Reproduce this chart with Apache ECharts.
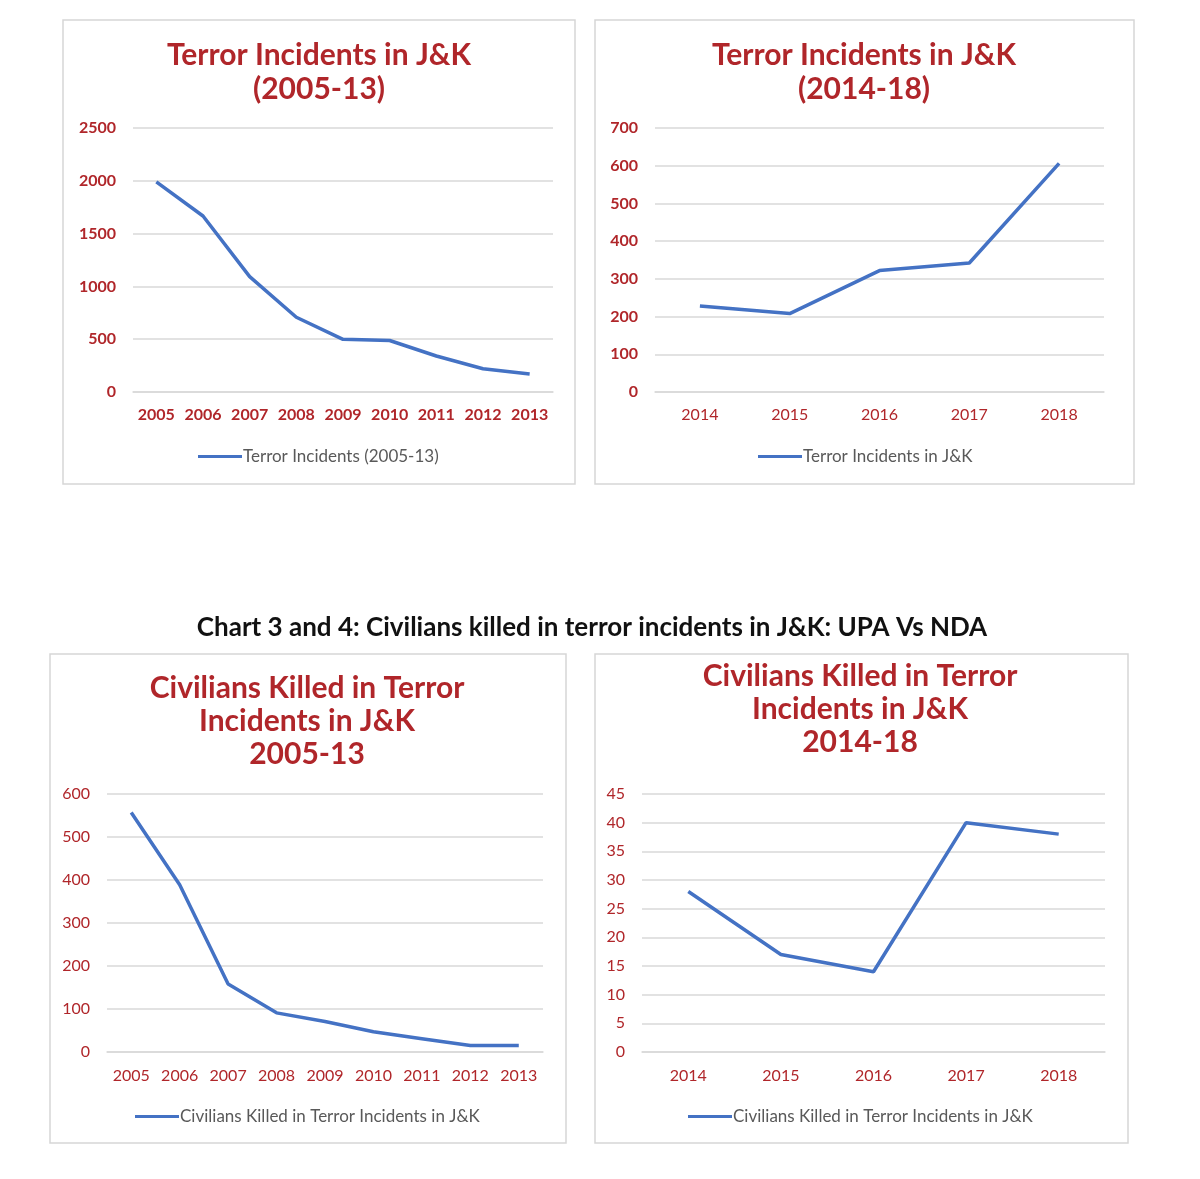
<!DOCTYPE html>
<html><head><meta charset="utf-8">
<script src="https://cdn.jsdelivr.net/npm/echarts@6/dist/echarts.min.js"></script>
<style>html,body{margin:0;padding:0;background:#fff}#c{width:1200px;height:1179px}</style>
</head><body><div id="c"></div>
<script>
const years1 = ['2005','2006','2007','2008','2009','2010','2011','2012','2013'];
const years2 = ['2014','2015','2016','2017','2018'];
const incidents1 = [1990, 1667, 1092, 708, 499, 488, 341, 220, 170];
const incidents2 = [228, 208, 322, 342, 606];
const civilians1 = [557, 389, 158, 91, 71, 47, 31, 15, 15];
const civilians2 = [28, 17, 14, 40, 38];
const yTicks1 = {min:0, max:2500, interval:500};
const yTicks2 = {min:0, max:700, interval:100};
const yTicks3 = {min:0, max:600, interval:100};
const yTicks4 = {min:0, max:45, interval:5};
const titles = ['Terror Incidents in J&K\n(2005-13)', 'Terror Incidents in J&K\n(2014-18)',
  'Civilians Killed in Terror\nIncidents in J&K\n2005-13', 'Civilians Killed in Terror\nIncidents in J&K\n2014-18'];
const seriesNames = ['Terror Incidents (2005-13)', 'Terror Incidents in J&K',
  'Civilians Killed in Terror Incidents in J&K', 'Civilians Killed in Terror Incidents in J&K'];
const heading = 'Chart 3 and 4: Civilians killed in terror incidents in J&K: UPA Vs NDA';

const RED = '#b0262a', BLUE = '#4472c4', GRID = '#d9d9d9', FONT = 'Lato';
const grids = [
  {left:133, top:128, width:420, height:264},
  {left:655, top:128, width:449, height:264},
  {left:107, top:794, width:436, height:258},
  {left:642, top:794, width:463, height:258}
];
const boxes = [[63,20,512,464],[595,20,539,464],[50,654,516,489],[595,654,533,489]];
const titlePos = [[319,38],[864,38],[307,672],[860,660]];
const titleSize = [[30,34],[30,34],[30,33],[30,33]];
const legendPos = [[198,448],[758,448],[135,1108],[688,1108]];
const boldAxis = [[true,true],[false,true],[false,false],[false,false]];
const xMargin = [15,15,16,16];
const yT = [yTicks1,yTicks2,yTicks3,yTicks4];
const cats = [years1,years2,years1,years2];
const vals = [incidents1,incidents2,civilians1,civilians2];

const chart = echarts.init(document.getElementById('c'));
chart.setOption({
  animation:false,
  title: titles.map((t,i)=>({text:t, left:titlePos[i][0], top:titlePos[i][1], textAlign:'center', padding:0,
      textStyle:{fontFamily:FONT, fontWeight:'bold', fontSize:titleSize[i][0], color:RED, lineHeight:titleSize[i][1]}}))
    .concat([{text:heading, left:592, top:615, textAlign:'center', padding:0,
      textStyle:{fontFamily:FONT, fontWeight:'bold', fontSize:26, color:'#111'}}]),
  grid: grids,
  legend: seriesNames.map((n,i)=>({data:[n], left:legendPos[i][0], top:legendPos[i][1], icon:'rect', padding:0,
      itemWidth:44, itemHeight:3, itemGap:0, textStyle:{fontFamily:FONT, fontSize:17, color:'#595959', padding:[0,0,0,-4]}})),
  xAxis: cats.map((c,i)=>({type:'category', gridIndex:i, data:c, boundaryGap:true,
      axisLine:{show:true, lineStyle:{color:GRID, width:1.5}}, axisTick:{show:false},
      axisLabel:{interval:0, fontFamily:FONT, fontSize:16, color:RED, fontWeight:boldAxis[i][0]?'bold':'normal', margin:xMargin[i]}})),
  yAxis: yT.map((t,i)=>({type:'value', gridIndex:i, min:t.min, max:t.max, interval:t.interval,
      axisLine:{show:false}, axisTick:{show:false},
      splitLine:{lineStyle:{color:GRID, width:1.5}},
      axisLabel:{formatter:v=>String(v), fontFamily:FONT, fontSize:16, color:RED, fontWeight:boldAxis[i][1]?'bold':'normal', margin:17}})),
  series: vals.map((v,i)=>({type:'line', name:seriesNames[i], xAxisIndex:i, yAxisIndex:i, data:v,
      symbol:'none', lineStyle:{color:BLUE, width:3.5}, itemStyle:{color:BLUE}})),
  graphic: boxes.map(b=>({type:'rect', shape:{x:b[0], y:b[1], width:b[2], height:b[3]},
      style:{fill:'none', stroke:'#d6d6d6', lineWidth:1.5}, silent:true}))
});
</script></body></html>
